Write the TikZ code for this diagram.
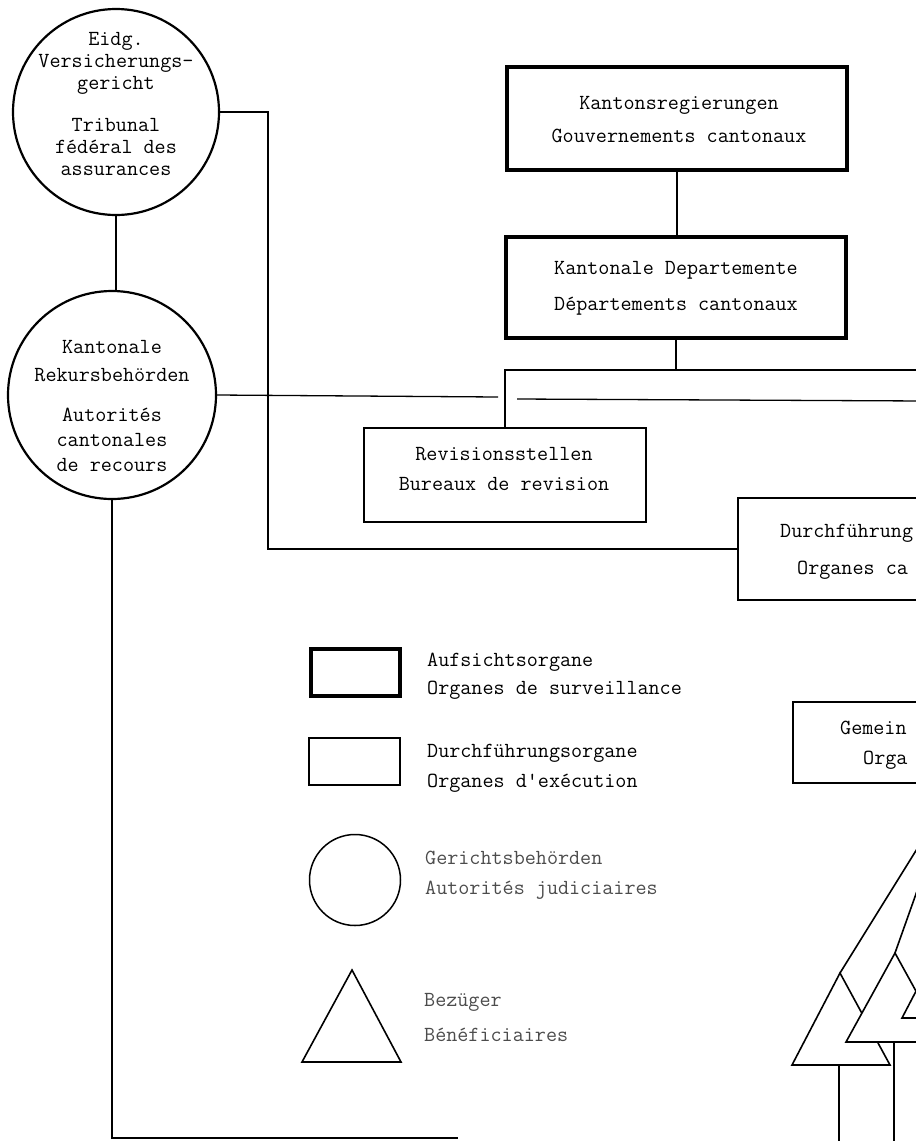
\documentclass[tikz,border=0pt]{standalone}
\usepackage{fontspec}
\begin{document}
\begin{tikzpicture}[x=1pt,y=-1pt,
  tt/.style={font=\fontsize{21.5}{#1}\selectfont\ttfamily, inner sep=0pt},
  txt/.style={tt=#1, align=center},
  ltxt/.style={tt=#1, align=left, anchor=west},
  court/.style={draw, circle, line width=2.2pt, inner sep=0pt},
  superv/.style={draw, rectangle, line width=3.4pt, inner sep=0pt},
  exec/.style={draw, rectangle, line width=1.8pt, inner sep=0pt},
  conn/.style={line width=1.3pt},
  benef/.style={draw, line width=1.6pt, fill=white, line join=miter},
  faded/.style={text=black!70},
]
\useasboundingbox (0,0) rectangle (916,1141);
\clip (0,0) rectangle (916,1141);

% courts
\node[court, minimum size=206pt] (evg) at (116,112) {};
\node[txt=22] (evgt) at (116,103.5) {Eidg.\\Versicherungs-\\gericht\\[20pt]Tribunal\\fédéral des\\assurances};
\node[court, minimum size=208pt] (rek) at (112,395) {};
\node[txt=25] (rekt) at (112,405.5) {Kantonale\\[3pt]Rekursbehörden\\[15pt]Autorités\\cantonales\\de recours};

% supervision
\node[superv, minimum width=340pt, minimum height=103pt] (kreg) at (677,118.5) {};
\node[txt=33] (kregt) at (679,120) {Kantonsregierungen\\Gouvernements cantonaux};
\node[superv, minimum width=340pt, minimum height=101pt] (kdep) at (676,287.5) {};
\node[txt=36] (kdept) at (676,288.5) {Kantonale Departemente\\Départements cantonaux};

% execution
\node[exec, minimum width=282pt, minimum height=94pt] (rev) at (505,475) {};
\node[txt=30] (revt) at (504,468.5) {Revisionsstellen\\Bureaux de revision};
\node[exec, minimum width=262pt, minimum height=102pt] (durch) at (869,549) {};
\node[ltxt=22] (durcht1) at (780,533) {Durchführung};
\node[ltxt=22] (durcht2) at (797,570) {Organes ca};
\node[exec, minimum width=200pt, minimum height=81pt] (gem) at (893,742.5) {};
\node[ltxt=22] (gemt1) at (840,728) {Gemein};
\node[ltxt=22] (gemt2) at (863,760) {Orga};

% connectors
\draw[conn] (kreg.south) -- (kreg.south |- kdep.north);
\coordinate (j1) at (676,370);
\coordinate (rt1) at (925,370);
\draw[conn] (kdep.south) -- (j1);
\draw[conn] (rt1) -- (rev.north |- rt1) -- (rev.north);
\coordinate (g1) at (498,397);
\coordinate (g2) at (517,399);
\coordinate (rt2) at (925,401);
\draw[conn] (rek.east) -- (g1);
\draw[conn] (g2) -- (rt2);
\coordinate (c1) at (268,112);
\draw[conn] (evg.east) -- (c1) |- (durch.west);
\draw[conn] (evg.south) -- (evg.south |- rek.north);
\coordinate (b1) at (110,1138);
\coordinate (b2) at (458,1138);
\draw[conn] (rek.south) -- (rek.south |- b1) -- (b2);

% beneficiaries group
\coordinate (a1) at (840,973);
\coordinate (a2) at (895,953);
\draw[benef] (a1) -- (930,828);
\draw[benef] (a2) -- (922,877);
\draw[benef] (a1) -- (890,1065) -- (792,1065) -- cycle;
\draw[benef] (a2) -- (944,1042) -- (846,1042) -- cycle;
\draw[benef] (950,926) -- (998,1018) -- (902,1018) -- cycle;
\coordinate (t1) at (839,1065);
\coordinate (t1e) at (839,1150);
\coordinate (t2) at (894,1042);
\coordinate (t2e) at (894,1150);
\draw[conn] (t1) -- (t1e);
\draw[conn] (t2) -- (t2e);

% legend
\node[superv, minimum width=89pt, minimum height=47pt] (lsup) at (355.5,672.5) {};
\node[ltxt=28] (lsupt) at (427,676) {Aufsichtsorgane\\Organes de surveillance};
\node[exec, minimum width=91pt, minimum height=47pt] (lexe) at (354.5,761.5) {};
\node[ltxt=30] (lexet) at (427,768) {Durchführungsorgane\\Organes d'exécution};
\node[court, line width=1.5pt, minimum size=91pt] (lcourt) at (355,880) {};
\node[ltxt=30, faded] (lcourtt) at (425,875) {Gerichtsbehörden\\Autorités judiciaires};
\coordinate (la) at (352,970);
\draw[benef] (la) -- (401,1062) -- (302,1062) -- cycle;
\node[ltxt=35, faded] (lbent) at (424,1017.5) {Bezüger\\Bénéficiaires};
\end{tikzpicture}
\end{document}
